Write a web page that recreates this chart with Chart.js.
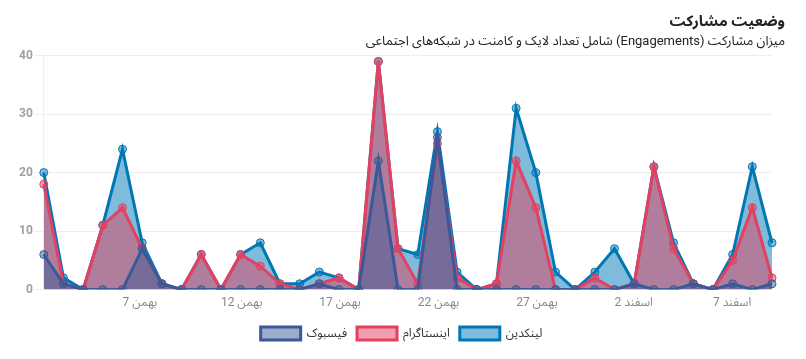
<!DOCTYPE html>
<html lang="fa">
<head>
<meta charset="utf-8">
<title>وضعیت مشارکت</title>
<script src="https://cdn.jsdelivr.net/npm/chart.js@4.4.1/dist/chart.umd.min.js"></script>
<style>
    html, body { margin: 0; padding: 0; background: #fff; }
    #wrap { width: 806px; height: 359px; }
</style>
</head>
<body>
<div id="wrap">
    <canvas id="engagement-chart" width="806" height="359" dir="rtl"></canvas>
</div>
<script>
// engagement chart — daily likes + comments per network

const dayLabels = [
    'بهمن 3', 'بهمن 4', 'بهمن 5', 'بهمن 6', 'بهمن 7', 'بهمن 8', 'بهمن 9', 'بهمن 10',
    'بهمن 11', 'بهمن 12', 'بهمن 13', 'بهمن 14', 'بهمن 15', 'بهمن 16', 'بهمن 17', 'بهمن 18',
    'بهمن 19', 'بهمن 20', 'بهمن 21', 'بهمن 22', 'بهمن 23', 'بهمن 24', 'بهمن 25', 'بهمن 26',
    'بهمن 27', 'بهمن 28', 'بهمن 29', 'بهمن 30', 'اسفند 1', 'اسفند 2', 'اسفند 3', 'اسفند 4',
    'اسفند 5', 'اسفند 6', 'اسفند 7', 'اسفند 8', 'اسفند 9', 'اسفند 10'
];

const facebookValues = [
    6, 1, 0, 0, 0, 7, 1, 0, 0, 0, 0, 0, 0, 0, 1, 0, 0, 22, 0, 0,
    26, 0, 0, 0, 0, 0, 0, 0, 0, 0, 1, 0, 0, 1, 0, 1, 0, 1
];
const instagramValues = [
    18, 1, 0, 11, 14, 7, 1, 0, 6, 0, 6, 4, 1, 0, 1, 2, 0, 39, 7, 1,
    25, 2, 0, 1, 22, 14, 0, 0, 2, 0, 1, 21, 7, 1, 0, 5, 14, 2
];
const linkedinValues = [
    20, 2, 0, 11, 24, 8, 1, 0, 6, 0, 6, 8, 1, 1, 3, 2, 0, 39, 7, 6,
    27, 3, 0, 1, 31, 20, 3, 0, 3, 7, 1, 21, 8, 1, 0, 6, 21, 8
];

const seriesNames = ['فیسبوک', 'اینستاگرام', 'لینکدین'];
const yTicks = [0, 10, 20, 30, 40];

const FONT = "Roboto, 'Noto Sans Arabic', 'DejaVu Sans', sans-serif";

function makeSeries(label, values, line, fill) {
    return {
        label,
        data: values,
        borderColor: line,
        backgroundColor: fill,
        borderWidth: 3,
        fill: 'origin',
        tension: 0,
        pointRadius: 4,
        pointBorderWidth: 1,
        pointBackgroundColor: fill,
        pointBorderColor: line,
    };
}

const ctx = document.getElementById('engagement-chart').getContext('2d');
new Chart(ctx, {
    type: 'line',
    data: {
        labels: dayLabels,
        datasets: [
            makeSeries(seriesNames[0], facebookValues, '#3b5998', 'rgba(59, 89, 152, 0.5)'),
            makeSeries(seriesNames[1], instagramValues, '#e4405f', 'rgba(228, 64, 95, 0.5)'),
            makeSeries(seriesNames[2], linkedinValues, '#0077b5', 'rgba(0, 119, 181, 0.5)'),
        ]
    },
    options: {
        responsive: false,
        animation: false,
        layout: { padding: { left: 18, right: 21, top: 0, bottom: 9 } },
        plugins: {
            title: {
                display: true,
                text: 'وضعیت مشارکت',
                align: 'end',
                color: '#222',
                font: { family: FONT, size: 15, weight: 'bold' },
                padding: { top: 13, bottom: 2 },
            },
            subtitle: {
                display: true,
                text: 'میزان مشارکت (Engagements) شامل تعداد لایک و کامنت در شبکه‌های اجتماعی',
                align: 'end',
                color: '#222',
                font: { family: FONT, size: 13 },
                padding: { top: 1, bottom: 6 },
            },
            legend: {
                position: 'bottom',
                labels: {
                    boxWidth: 40,
                    boxHeight: 13,
                    padding: 10,
                    color: '#333',
                    font: { family: FONT, size: 12 },
                }
            },
            tooltip: { enabled: false },
        },
        scales: {
            x: {
                grid: { display: false, drawTicks: false },
                border: { display: false },
                ticks: {
                    autoSkip: false,
                    maxRotation: 0,
                    align: 'start',
                    padding: 6,
                    color: '#888',
                    font: { family: FONT, size: 12 },
                    callback: (v, i) => (i % 5 === 4 ? dayLabels[i] : null),
                },
                afterFit: (scale) => { scale.height += 1; },
            },
            y: {
                min: yTicks[0],
                max: yTicks[yTicks.length - 1],
                afterBuildTicks: (scale) => { scale.ticks = yTicks.map(v => ({ value: v })); },
                grid: { color: '#eeeeee', tickLength: 10 },
                border: { display: true, color: '#eeeeee' },
                ticks: {
                    padding: 1,
                    color: '#a0a0a0',
                    font: { family: FONT, size: 12, weight: 'bold' },
                },
            },
            // spacer so the plot stops short of the title's right edge
            spacer: {
                position: 'right',
                display: true,
                grid: { display: false },
                border: { display: false },
                ticks: { display: false },
                afterFit: (scale) => { scale.width = 13; },
            },
        }
    }
});
</script>
</body>
</html>
